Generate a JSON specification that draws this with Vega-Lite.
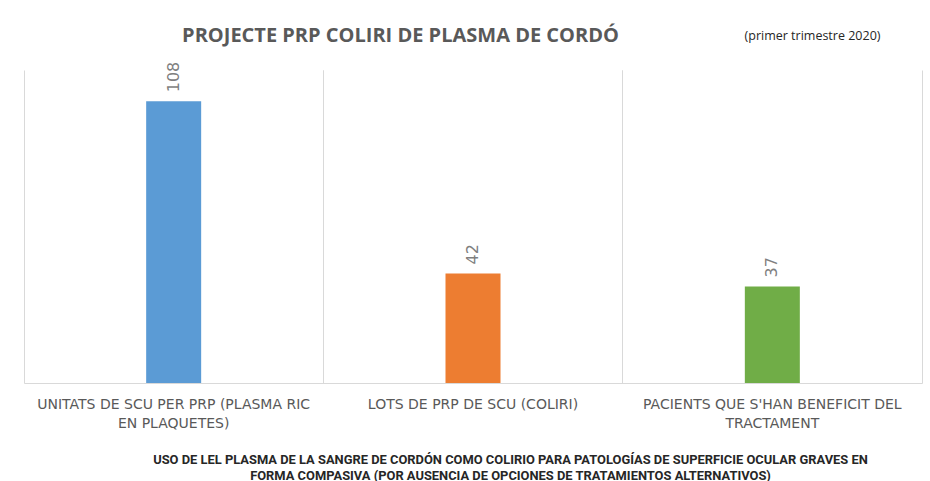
{
  "$schema": "https://vega.github.io/schema/vega-lite/v6.json",
  "width": 898,
  "height": 313,
  "autosize": {"type": "none"},
  "padding": {"left": 24, "top": 70, "right": 8, "bottom": 98},
  "background": "white",
  "config": {"view": {"stroke": null}},
  "data": {
    "values": [
      {"categoria": "UNITATS DE SCU PER PRP (PLASMA RIC EN PLAQUETES)", "valor": 108},
      {"categoria": "LOTS DE PRP DE SCU (COLIRI)", "valor": 42},
      {"categoria": "PACIENTS QUE S'HAN BENEFICIT DEL TRACTAMENT", "valor": 37}
    ]
  },
  "encoding": {
    "x": {
      "field": "categoria",
      "type": "nominal",
      "sort": null,
      "scale": {"paddingInner": 0, "paddingOuter": 0},
      "axis": {
        "orient": "bottom",
        "labelAngle": 0,
        "labelExpr": "datum.value == 'UNITATS DE SCU PER PRP (PLASMA RIC EN PLAQUETES)' ? ['UNITATS DE SCU PER PRP (PLASMA RIC', 'EN PLAQUETES)'] : datum.value == 'PACIENTS QUE S\\'HAN BENEFICIT DEL TRACTAMENT' ? ['PACIENTS QUE S\\'HAN BENEFICIT DEL', 'TRACTAMENT'] : datum.value",
        "labelFont": "DejaVu Sans",
        "labelFontSize": 14,
        "labelColor": "#595959",
        "labelPadding": 14,
        "labelBaseline": "top",
        "labelLineHeight": 19,
        "labelLimit": 400,
        "ticks": false,
        "domainColor": "#d9d9d9",
        "grid": true,
        "gridColor": "#d9d9d9",
        "bandPosition": 0,
        "title": ["USO DE LEL PLASMA DE LA SANGRE DE CORDÓN COMO COLIRIO PARA PATOLOGÍAS DE SUPERFICIE OCULAR GRAVES EN", "FORMA COMPASIVA (POR AUSENCIA DE OPCIONES DE TRATAMIENTOS ALTERNATIVOS)"],
        "titleFont": "Roboto",
        "titleFontSize": 12.9,
        "titleFontWeight": "bold",
        "titleColor": "#262626",
        "titleX": 486,
        "titleY": 80,
        "titleAlign": "center",
        "titleBaseline": "alphabetic",
        "titleLineHeight": 16
      }
    },
    "y": {
      "field": "valor",
      "type": "quantitative",
      "scale": {"domain": [0, 120]},
      "axis": {
        "orient": "right",
        "labels": false,
        "ticks": false,
        "domain": false,
        "grid": false,
        "title": "(primer trimestre 2020)",
        "titleAngle": 0,
        "titleX": -110,
        "titleY": -35,
        "titleAlign": "center",
        "titleBaseline": "middle",
        "titleFont": "Open Sans",
        "titleFontSize": 12.5,
        "titleFontWeight": "normal",
        "titleColor": "#262626"
      }
    }
  },
  "layer": [
    {
      "mark": {"type": "bar", "width": 55},
      "encoding": {
        "color": {
          "field": "categoria",
          "type": "nominal",
          "sort": null,
          "scale": {"range": ["#5B9BD5", "#ED7D31", "#70AD47"]},
          "legend": null
        }
      }
    },
    {
      "mark": {"type": "text", "angle": 270, "align": "left", "baseline": "middle", "dx": 9, "font": "DejaVu Sans", "fontSize": 16, "color": "#7f7f7f"},
      "encoding": {
        "text": {"field": "valor", "type": "quantitative"},
        "x": {
          "field": "categoria",
          "type": "nominal",
          "sort": null,
          "axis": {
            "orient": "top",
            "grid": true,
            "bandPosition": 1,
            "gridColor": "#d9d9d9",
            "labels": false,
            "ticks": false,
            "domain": false,
            "title": "PROJECTE PRP COLIRI DE PLASMA DE CORDÓ",
            "titleFont": "Open Sans",
            "titleFontSize": 20,
            "titleFontWeight": "bold",
            "titleColor": "#595959",
            "titleAlign": "center",
            "titleBaseline": "alphabetic",
            "titleX": 376,
            "titleY": -29
          }
        }
      }
    }
  ],
  "resolve": {"axis": {"x": "independent"}}
}
